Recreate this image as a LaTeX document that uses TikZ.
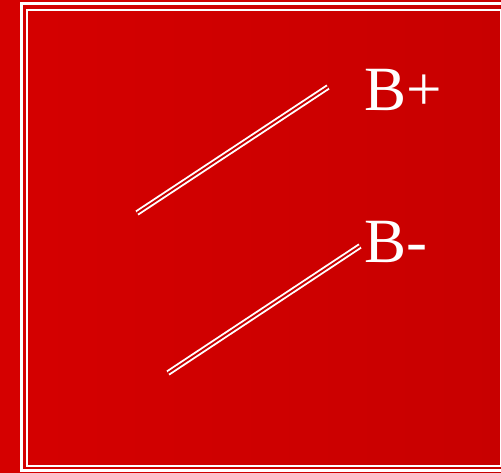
\documentclass[tikz,border=0pt]{standalone}
\usepackage{fontspec}
\setmainfont{Liberation Serif}
\definecolor{bgleft}{RGB}{213,0,0}
\definecolor{bgright}{RGB}{200,0,0}
\begin{document}
\begin{tikzpicture}[
x=1pt,
y=-1pt,
frameouter/.style={
draw=white,
line width=3pt
},
frameinner/.style={
draw=white,
line width=1.8pt
},
rod/.style={
draw=white,
line width=1.9pt,
double=bgright,
double distance=1.9pt
},
label/.style={
text=white,
inner sep=0pt,
anchor=base west,
font=\fontsize{63}{70}\selectfont
}
]

% background and frame
\shade[left color=bgleft, right color=bgright] (0,0) rectangle (501,472);
\useasboundingbox (0,0) rectangle (501,472);
\draw[frameouter] (21.5,3.5) rectangle (506,470.5);
\draw[frameinner] (27,9.8) rectangle (500.5,465.8);

% rods
\coordinate (plusA) at (137,213);
\coordinate (plusB) at (328,87);
\coordinate (minusA) at (168,373);
\coordinate (minusB) at (360,246);

\draw[rod] (plusA) -- (plusB);
\draw[rod] (minusA) -- (minusB);

% labels
\node[label] (bplus) at (364,110) {B+};
\node[label] (bminus) at (364,262) {B-};

\end{tikzpicture}
\end{document}
